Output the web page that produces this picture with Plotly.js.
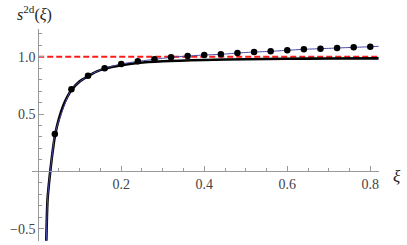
<!DOCTYPE html>
<html><head><meta charset="utf-8">
<script src="https://cdn.plot.ly/plotly-3.0.1.min.js"></script>
<style>html,body{margin:0;padding:0;background:#fff}#c{width:407px;height:245px}</style>
</head><body><div id="c"></div>
<script>
// Black theory curve
var xiCurve = [0.0195,0.0224,0.026,0.029,0.035,0.041,0.05,0.06,0.07,0.08,0.10,0.12,0.14,0.16,0.20,0.24,0.30,0.40,0.50,0.60,0.70,0.82];
var sCurve  = [-0.606,-0.25,-0.10,0.0,0.18,0.325,0.46,0.57,0.65,0.71,0.785,0.83,0.87,0.895,0.925,0.945,0.96,0.972,0.978,0.982,0.984,0.986];
// Data points
var xiPts = [0.04,0.08,0.12,0.16,0.20,0.24,0.28,0.32,0.36,0.40,0.44,0.48,0.52,0.56,0.60,0.64,0.68,0.72,0.76,0.80];
var sPts  = [0.325,0.716,0.834,0.899,0.936,0.96,0.977,0.995,1.006,1.015,1.021,1.032,1.041,1.047,1.056,1.065,1.070,1.076,1.082,1.087];
// Thin blue fit line
var xiFitStart = [0.0195,0.0224,0.026,0.029,0.035];
var sFitStart  = [-0.606,-0.25,-0.10,0.0,0.18];
var xiFitEnd = 0.82, sFitEnd = 1.091;
// Reference level
var refLevel = 1.0;
var xTicks = [0.2,0.4,0.6,0.8], xTickText = ['0.2','0.4','0.6','0.8'];
var yTicks = [-0.5,0.5,1.0], yTickText = ['\u22120.5','0.5','1.0'];

var xiFit = xiFitStart.concat(xiPts.slice(0)).concat([xiFitEnd]);
var sFit = sFitStart.concat(sPts.slice(0)).concat([sFitEnd]);

var serif = 'Liberation Serif';
var font = {family:serif, size:14, color:'#444'};
var traces = [
  {x:[0,0.82], y:[refLevel,refLevel], mode:'lines', line:{color:'#ff1a1a', width:2, dash:'6px,3px'}, hoverinfo:'skip'},
  {x:xiCurve, y:sCurve, mode:'lines', line:{color:'#000', width:2.6, shape:'spline', smoothing:0.8}, hoverinfo:'skip'},
  {x:xiFit, y:sFit, mode:'lines', line:{color:'#4a4aa8', width:1, shape:'spline', smoothing:0.6}, hoverinfo:'skip'},
  {x:xiPts, y:sPts, mode:'markers', marker:{color:'#000', size:6.5}, hoverinfo:'skip'}
];
var ax = {showgrid:false, zeroline:false, showline:true, linecolor:'#999', linewidth:1,
          ticks:'inside', ticklen:5, tickcolor:'#999', tickwidth:1, tickfont:font};
var layout = {
  width:407, height:245, margin:{l:32,r:28,t:29,b:4},
  font:{family:serif},
  showlegend:false, paper_bgcolor:'#fff', plot_bgcolor:'#fff',
  xaxis:Object.assign({}, ax, {range:[-0.015,0.821], anchor:'free', position:0.3286,
        tickvals:xTicks, ticktext:xTickText,
        minor:{ticks:'inside', dtick:0.05, tick0:0, ticklen:3, tickcolor:'#999', showgrid:false}}),
  yaxis:Object.assign({}, ax, {range:[-0.608,1.242], anchor:'free', position:0.01794,
        tickvals:yTicks, ticktext:yTickText,
        minor:{ticks:'inside', dtick:0.1, tick0:0, ticklen:3, tickcolor:'#999', showgrid:false}}),
  annotations:[
    {xref:'paper', yref:'paper', x:-0.048, y:1.075, xanchor:'left', yanchor:'middle', showarrow:false,
     text:'<i>s</i><sup>2d</sup>(<i>\u03be</i>)', font:{family:serif, size:16, color:'#222'}},
    {xref:'paper', yref:'paper', x:1.035, y:0.305, xanchor:'left', yanchor:'middle', showarrow:false,
     text:'<i>\u03be</i>', font:{family:serif, size:17, color:'#222'}}
  ]
};
Plotly.newPlot('c', traces, layout, {staticPlot:true, displayModeBar:false});
</script></body></html>
